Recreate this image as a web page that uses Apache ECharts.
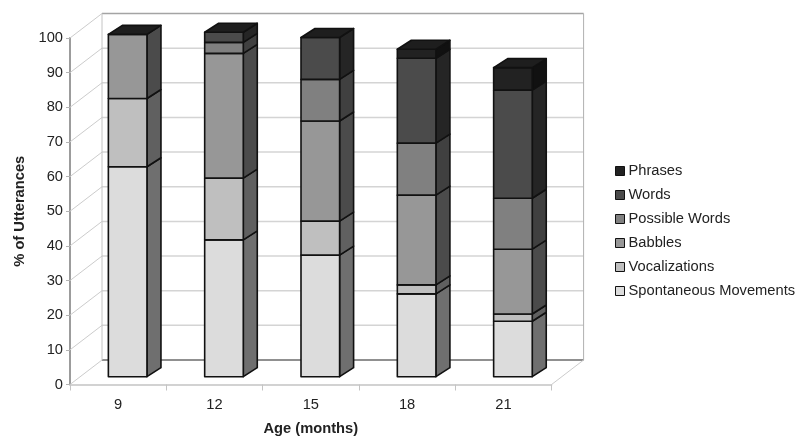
<!DOCTYPE html>
<html>
<head>
<meta charset="utf-8">
<style>
html, body { margin: 0; padding: 0; background: #fff; }
#chart { width: 800px; height: 445px; }
</style>
<script src="https://cdn.jsdelivr.net/npm/echarts@6/dist/echarts.min.js"></script>
</head>
<body>
<div id="chart"></div>
<script>
// data
var ages = ['9', '12', '15', '18', '21'];
var spontaneous = [60.6, 39.5, 35.1, 23.9, 16.0];
var vocalizations = [19.7, 17.8, 9.8, 2.6, 2.1];
var babbles = [18.5, 36.0, 28.9, 25.9, 18.7];
var possibleWords = [0, 3.2, 12.0, 15.0, 14.7];
var words = [0, 2.9, 12.1, 24.5, 31.2];
var phrases = [0, 0, 0, 2.6, 6.5];
var yTicks = [0, 10, 20, 30, 40, 50, 60, 70, 80, 90, 100];

var names = ['Spontaneous Movements', 'Vocalizations', 'Babbles', 'Possible Words', 'Words', 'Phrases'];
var values = [spontaneous, vocalizations, babbles, possibleWords, words, phrases];
var frontColors = ['#dcdcdc', '#bfbfbf', '#979797', '#808080', '#4b4b4b', '#222222'];
var sideColors = ['#6f6f6f', '#606060', '#4b4b4b', '#404040', '#252525', '#111111'];

// the fake 3d box
var depthX = 32, depthY = 24.5;
var barShiftX = 9.5, barShiftY = 7.8;
var barDepthX = 14, barDepthY = 9;
var barWidth = 38.6;

function wallLine(points, color, width) {
    return {
        type: 'polyline',
        silent: true,
        shape: { points: points },
        style: { fill: null, stroke: color, lineWidth: width }
    };
}

function renderWall(params, api) {
    var v = api.value(0);
    var left = api.coord([0, v]);
    var right = api.coord([ages.length - 1, v]);
    var band = api.size([1, 0])[0];
    var x0 = left[0] - band / 2, x1 = right[0] + band / 2, y = left[1];
    var children = [];
    children.push(wallLine([[x0, y], [x0 + depthX, y - depthY]], '#cccccc', 1));
    if (v === 0) {
        children.push(wallLine([[x0 + depthX, y - depthY], [x1 + depthX, y - depthY]], '#909090', 2));
        children.push(wallLine([[x1, y], [x1 + depthX, y - depthY]], '#cccccc', 1));
    } else if (v === 100) {
        children.push(wallLine([[x0 + depthX, y - depthY], [x1 + depthX, y - depthY]], '#a4a4a4', 1.5));
        var bottom = api.coord([0, 0])[1];
        children.push(wallLine([[x0 + depthX, y - depthY], [x0 + depthX, bottom - depthY]], '#c4c4c4', 1));
        children.push(wallLine([[x1 + depthX, y - depthY], [x1 + depthX, bottom - depthY]], '#b0b0b0', 1));
    } else {
        children.push(wallLine([[x0 + depthX, y - depthY], [x1 + depthX, y - depthY]], '#d4d4d4', 1.5));
    }
    return { type: 'group', children: children };
}

function face(points, color) {
    return {
        type: 'polygon',
        shape: { points: points },
        style: { fill: color, stroke: '#111', lineWidth: 1.6, lineJoin: 'round' }
    };
}

function makeRender(s) {
    return function (params, api) {
        var lo = api.coord([api.value(0), api.value(1)]);
        var hi = api.coord([api.value(0), api.value(2)]);
        var x0 = lo[0] - barWidth / 2 + barShiftX;
        var x1 = x0 + barWidth;
        var y0 = lo[1] - barShiftY;
        var y1 = hi[1] - barShiftY;
        var children = [];
        if (y0 - y1 > 0.01) {
            children.push(face([[x1, y0], [x1 + barDepthX, y0 - barDepthY], [x1 + barDepthX, y1 - barDepthY], [x1, y1]], sideColors[s]));
            children.push(face([[x0, y0], [x1, y0], [x1, y1], [x0, y1]], frontColors[s]));
        }
        // lid of the whole column comes with the last series
        if (s === names.length - 1) {
            children.push(face([[x0, y1], [x1, y1], [x1 + barDepthX, y1 - barDepthY], [x0 + barDepthX, y1 - barDepthY]], '#1e1e1e'));
        }
        return { type: 'group', children: children };
    };
}

var series = [{
    type: 'custom',
    silent: true,
    z: 1,
    renderItem: renderWall,
    encode: { y: 0 },
    data: yTicks.map(function (t) { return [t]; })
}];

var running = ages.map(function () { return 0; });
names.forEach(function (name, s) {
    var rows = [];
    for (var i = 0; i < ages.length; i++) {
        rows.push([i, running[i], running[i] + values[s][i]]);
        running[i] += values[s][i];
    }
    series.push({
        name: name,
        type: 'custom',
        z: 2,
        renderItem: makeRender(s),
        encode: { x: 0, y: [1, 2] },
        itemStyle: { color: frontColors[s] },
        data: rows
    });
});

var myChart = echarts.init(document.getElementById('chart'));
var option = {
    animation: false,
    backgroundColor: '#fff',
    textStyle: { fontFamily: 'Liberation Sans', color: '#222' },
    grid: { left: 70, top: 38, width: 481.6, height: 346.5 },
    legend: {
        orient: 'vertical',
        left: 615,
        top: 163,
        padding: 0,
        itemWidth: 9,
        itemHeight: 9,
        itemGap: 8,
        icon: 'rect',
        selectedMode: false,
        data: names.slice().reverse(),
        itemStyle: { borderColor: '#111', borderWidth: 1 },
        textStyle: { fontFamily: 'Liberation Sans', fontSize: 14.7, color: '#222', padding: [0, 0, 0, -1], lineHeight: 16 }
    },
    xAxis: {
        type: 'category',
        data: ages,
        name: 'Age (months)',
        nameLocation: 'middle',
        nameGap: 37,
        nameTextStyle: { fontFamily: 'Liberation Sans', fontWeight: 'bold', fontSize: 14.7, color: '#222' },
        axisLine: { lineStyle: { color: '#c4c4c4', width: 1.5 } },
        axisTick: { show: true, length: 6, lineStyle: { color: '#c4c4c4' } },
        axisLabel: { fontSize: 14.7, color: '#222', margin: 13 },
        splitLine: { show: false }
    },
    yAxis: {
        type: 'value',
        min: 0,
        max: 100,
        interval: 10,
        name: '% of Utterances',
        nameLocation: 'middle',
        nameGap: 41,
        nameTextStyle: { fontFamily: 'Liberation Sans', fontWeight: 'bold', fontSize: 14.7, color: '#222' },
        axisLine: { show: true, lineStyle: { color: '#9c9c9c', width: 2 } },
        axisTick: { show: true, length: 4, lineStyle: { color: '#b4b4b4' } },
        axisLabel: { fontSize: 14.7, color: '#222', margin: 7 },
        splitLine: { show: false }
    },
    series: series
};
myChart.setOption(option);
</script>
</body>
</html>
